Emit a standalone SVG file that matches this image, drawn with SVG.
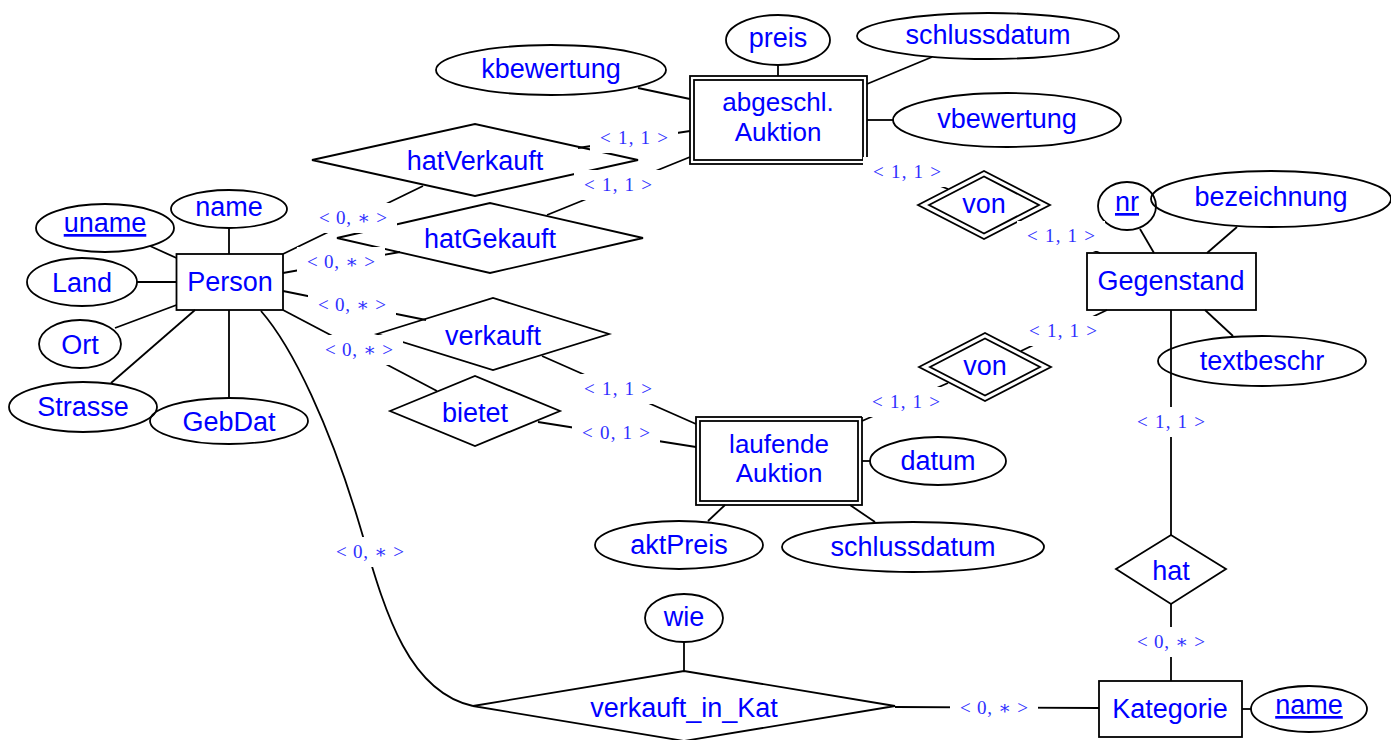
<svg xmlns="http://www.w3.org/2000/svg" width="1391" height="740" viewBox="0 0 1391 740">
  <style>
    .s { fill: none; stroke: #000; stroke-width: 1.8; }
    .t { font-family: "Liberation Sans", Arial, sans-serif; font-size: 27px; fill: #0000ff; text-anchor: middle; }
    .t2 { font-size: 26px; }
    .u { text-decoration: underline; }
    .ln { stroke: #000; stroke-width: 1.8; fill: none; }
    .lb { fill: #fff; stroke: none; }
    .ct { font-family: "Liberation Serif", "DejaVu Serif", serif; font-size: 19px; fill: #2e2eff; text-anchor: middle; }
  </style>
  <rect width="1391" height="740" fill="#fff"/>

  <!-- entities -->
  <g id="person">
    <rect class="s" x="176.5" y="254" width="106.5" height="56"/>
    <text class="t" x="230" y="291">Person</text>
  </g>
  <g id="gegenstand">
    <rect class="s" x="1087" y="253" width="169" height="57"/>
    <text class="t" x="1171" y="290">Gegenstand</text>
  </g>
  <g id="kategorie">
    <rect class="s" x="1099" y="681" width="143" height="56"/>
    <text class="t" x="1170" y="718">Kategorie</text>
  </g>
  <g id="abgeschl-auktion">
    <rect class="s" x="690" y="76" width="177" height="88"/>
    <rect class="s" x="694" y="80" width="169" height="80"/>
    <text class="t t2" x="778" y="111">abgeschl.</text>
    <text class="t t2" x="778" y="141">Auktion</text>
  </g>
  <g id="laufende-auktion">
    <rect class="s" x="696" y="417" width="166" height="88"/>
    <rect class="s" x="700" y="421" width="158" height="80"/>
    <text class="t t2" x="779" y="453">laufende</text>
    <text class="t t2" x="779" y="482">Auktion</text>
  </g>

  <!-- attributes -->
  <g id="attr-uname">
    <ellipse class="s" cx="105" cy="228" rx="69" ry="24"/>
    <text class="t u" x="105" y="232">uname</text>
  </g>
  <g id="attr-name">
    <ellipse class="s" cx="229" cy="209" rx="58" ry="19"/>
    <text class="t" x="229" y="216">name</text>
  </g>
  <g id="attr-land">
    <ellipse class="s" cx="82" cy="282" rx="55" ry="24"/>
    <text class="t" x="82" y="292">Land</text>
  </g>
  <g id="attr-ort">
    <ellipse class="s" cx="80" cy="344" rx="41" ry="24"/>
    <text class="t" x="80" y="354">Ort</text>
  </g>
  <g id="attr-strasse">
    <ellipse class="s" cx="83" cy="407" rx="74" ry="25"/>
    <text class="t" x="83" y="416">Strasse</text>
  </g>
  <g id="attr-gebdat">
    <ellipse class="s" cx="229" cy="421" rx="79" ry="23"/>
    <text class="t" x="229" y="431">GebDat</text>
  </g>
  <g id="attr-kbewertung">
    <ellipse class="s" cx="551" cy="70" rx="115" ry="25"/>
    <text class="t" x="551" y="78">kbewertung</text>
  </g>
  <g id="attr-preis">
    <ellipse class="s" cx="778" cy="40" rx="52" ry="25"/>
    <text class="t" x="778" y="47">preis</text>
  </g>
  <g id="attr-schlussdatum-a">
    <ellipse class="s" cx="988" cy="36" rx="131" ry="23"/>
    <text class="t" x="988" y="44">schlussdatum</text>
  </g>
  <g id="attr-vbewertung">
    <ellipse class="s" cx="1007" cy="120" rx="114" ry="27"/>
    <text class="t" x="1007" y="128">vbewertung</text>
  </g>
  <g id="attr-nr">
    <ellipse class="s" cx="1127" cy="206" rx="29" ry="24"/>
    <text class="t u" x="1127" y="211">nr</text>
  </g>
  <g id="attr-bezeichnung">
    <ellipse class="s" cx="1271" cy="199" rx="120" ry="28"/>
    <text class="t" x="1271" y="206">bezeichnung</text>
  </g>
  <g id="attr-textbeschr">
    <ellipse class="s" cx="1262" cy="361" rx="104" ry="25"/>
    <text class="t" x="1262" y="370">textbeschr</text>
  </g>
  <g id="attr-datum">
    <ellipse class="s" cx="938" cy="461" rx="68" ry="24"/>
    <text class="t" x="938" y="470">datum</text>
  </g>
  <g id="attr-aktpreis">
    <ellipse class="s" cx="679" cy="545" rx="84" ry="24"/>
    <text class="t" x="679" y="554">aktPreis</text>
  </g>
  <g id="attr-schlussdatum-l">
    <ellipse class="s" cx="913" cy="547" rx="131" ry="25"/>
    <text class="t" x="913" y="556">schlussdatum</text>
  </g>
  <g id="attr-wie">
    <ellipse class="s" cx="684" cy="618" rx="39" ry="24"/>
    <text class="t" x="684" y="626">wie</text>
  </g>
  <g id="attr-kat-name">
    <ellipse class="s" cx="1309" cy="709" rx="58" ry="23"/>
    <text class="t u" x="1309" y="714">name</text>
  </g>

  <!-- relationships -->
  <g id="rel-hatverkauft">
    <polygon class="s" points="312,160 475,124 638,160 475,196"/>
    <text class="t" x="475" y="170">hatVerkauft</text>
  </g>
  <g id="rel-hatgekauft">
    <polygon class="s" points="337,238 490,203 643,238 490,273"/>
    <text class="t" x="490" y="248">hatGekauft</text>
  </g>
  <g id="rel-verkauft">
    <polygon class="s" points="377,334 493,298 609,334 493,370"/>
    <text class="t" x="493" y="345">verkauft</text>
  </g>
  <g id="rel-bietet">
    <polygon class="s" points="390,411 475,376 560,411 475,446"/>
    <text class="t" x="475" y="422">bietet</text>
  </g>
  <g id="rel-von-a">
    <polygon class="s" points="918,205 984,171 1050,205 984,239"/>
    <polygon class="s" points="929,205 984,176.5 1039,205 984,233.5"/>
    <text class="t" x="984" y="213">von</text>
  </g>
  <g id="rel-von-l">
    <polygon class="s" points="919,367 985,333 1051,367 985,401"/>
    <polygon class="s" points="930,367 985,338.5 1040,367 985,395.5"/>
    <text class="t" x="985" y="375">von</text>
  </g>
  <g id="rel-hat">
    <polygon class="s" points="1116,569 1171,535 1226,569 1171,604"/>
    <text class="t" x="1171" y="580">hat</text>
  </g>
  <g id="rel-verkauft-in-kat">
    <polygon class="s" points="473,706 684,671 895,706 684,741"/>
    <text class="t" x="684" y="717">verkauft_in_Kat</text>
  </g>

  <!-- connectors -->
  <g id="connectors">
    <!-- attribute links -->
    <line class="ln" x1="229" y1="228" x2="229" y2="254"/>
    <line class="ln" x1="150" y1="246" x2="176.5" y2="258"/>
    <line class="ln" x1="137" y1="282" x2="176.5" y2="282"/>
    <line class="ln" x1="115" y1="328" x2="176.5" y2="305"/>
    <line class="ln" x1="111" y1="383" x2="195" y2="310"/>
    <line class="ln" x1="229" y1="310" x2="229" y2="398"/>
    <line class="ln" x1="638" y1="88" x2="690" y2="99"/>
    <line class="ln" x1="778" y1="65" x2="778" y2="76"/>
    <line class="ln" x1="932" y1="57" x2="867" y2="84"/>
    <line class="ln" x1="867" y1="120" x2="893" y2="120"/>
    <line class="ln" x1="1140" y1="229" x2="1154" y2="253"/>
    <line class="ln" x1="1237" y1="227" x2="1207" y2="253"/>
    <line class="ln" x1="1205" y1="310" x2="1233" y2="336"/>
    <line class="ln" x1="862" y1="461" x2="870" y2="461"/>
    <line class="ln" x1="725" y1="505" x2="708" y2="521"/>
    <line class="ln" x1="850" y1="505" x2="875" y2="522"/>
    <line class="ln" x1="684" y1="642" x2="684" y2="671"/>
    <line class="ln" x1="1242" y1="709" x2="1251" y2="709"/>

    <!-- relationship links -->
    <line class="ln" x1="283" y1="254" x2="423" y2="186"/>
    <line class="ln" x1="283" y1="273" x2="400" y2="252"/>
    <line class="ln" x1="578" y1="148" x2="690" y2="131"/>
    <line class="ln" x1="547" y1="215" x2="690" y2="157"/>
    <line class="ln" x1="283" y1="291" x2="426" y2="320"/>
    <line class="ln" x1="283" y1="310" x2="437" y2="391"/>
    <line class="ln" x1="542" y1="356" x2="696" y2="424"/>
    <line class="ln" x1="538" y1="422" x2="696" y2="447"/>
    <line class="ln" x1="867" y1="158" x2="948" y2="189"/>
    <line class="ln" x1="1020" y1="221" x2="1100" y2="253"/>
    <line class="ln" x1="862" y1="421" x2="948" y2="383"/>
    <line class="ln" x1="1021" y1="351" x2="1107" y2="310"/>
    <line class="ln" x1="1171" y1="310" x2="1171" y2="535"/>
    <line class="ln" x1="1171" y1="604" x2="1171" y2="681"/>
    <line class="ln" x1="895" y1="707" x2="1099" y2="708"/>
    <path class="ln" d="M261,311 C295,350 330,430 355,510 C380,590 400,690 473,706"/>

    <!-- cardinality labels -->
    <g id="cardinalities">
      <rect class="lb" x="309" y="203" width="88" height="30"/>
      <text class="ct" x="353" y="224" textLength="68" lengthAdjust="spacing">&lt; 0, ∗ &gt;</text>
      <rect class="lb" x="297" y="247" width="88" height="30"/>
      <text class="ct" x="341" y="268" textLength="68" lengthAdjust="spacing">&lt; 0, ∗ &gt;</text>
      <rect class="lb" x="590" y="123" width="88" height="30"/>
      <text class="ct" x="634" y="144" textLength="68" lengthAdjust="spacing">&lt; 1, 1 &gt;</text>
      <rect class="lb" x="574" y="170" width="88" height="30"/>
      <text class="ct" x="618" y="191" textLength="68" lengthAdjust="spacing">&lt; 1, 1 &gt;</text>
      <rect class="lb" x="308" y="290" width="88" height="30"/>
      <text class="ct" x="352" y="311" textLength="68" lengthAdjust="spacing">&lt; 0, ∗ &gt;</text>
      <rect class="lb" x="315" y="335" width="88" height="30"/>
      <text class="ct" x="359" y="356" textLength="68" lengthAdjust="spacing">&lt; 0, ∗ &gt;</text>
      <rect class="lb" x="574" y="374" width="88" height="30"/>
      <text class="ct" x="618" y="395" textLength="68" lengthAdjust="spacing">&lt; 1, 1 &gt;</text>
      <rect class="lb" x="572" y="418" width="88" height="30"/>
      <text class="ct" x="616" y="439" textLength="68" lengthAdjust="spacing">&lt; 0, 1 &gt;</text>
      <rect class="lb" x="863" y="157" width="88" height="30"/>
      <text class="ct" x="907" y="178" textLength="68" lengthAdjust="spacing">&lt; 1, 1 &gt;</text>
      <rect class="lb" x="1017" y="221" width="88" height="30"/>
      <text class="ct" x="1061" y="242" textLength="68" lengthAdjust="spacing">&lt; 1, 1 &gt;</text>
      <rect class="lb" x="862" y="387" width="88" height="30"/>
      <text class="ct" x="906" y="408" textLength="68" lengthAdjust="spacing">&lt; 1, 1 &gt;</text>
      <rect class="lb" x="1019" y="316" width="88" height="30"/>
      <text class="ct" x="1063" y="337" textLength="68" lengthAdjust="spacing">&lt; 1, 1 &gt;</text>
      <rect class="lb" x="1127" y="407" width="88" height="30"/>
      <text class="ct" x="1171" y="428" textLength="68" lengthAdjust="spacing">&lt; 1, 1 &gt;</text>
      <rect class="lb" x="1127" y="627" width="88" height="30"/>
      <text class="ct" x="1171" y="648" textLength="68" lengthAdjust="spacing">&lt; 0, ∗ &gt;</text>
      <rect class="lb" x="950" y="693" width="88" height="30"/>
      <text class="ct" x="994" y="714" textLength="68" lengthAdjust="spacing">&lt; 0, ∗ &gt;</text>
      <rect class="lb" x="326" y="537" width="88" height="30"/>
      <text class="ct" x="370" y="558" textLength="68" lengthAdjust="spacing">&lt; 0, ∗ &gt;</text>
    </g>
  </g>
</svg>
